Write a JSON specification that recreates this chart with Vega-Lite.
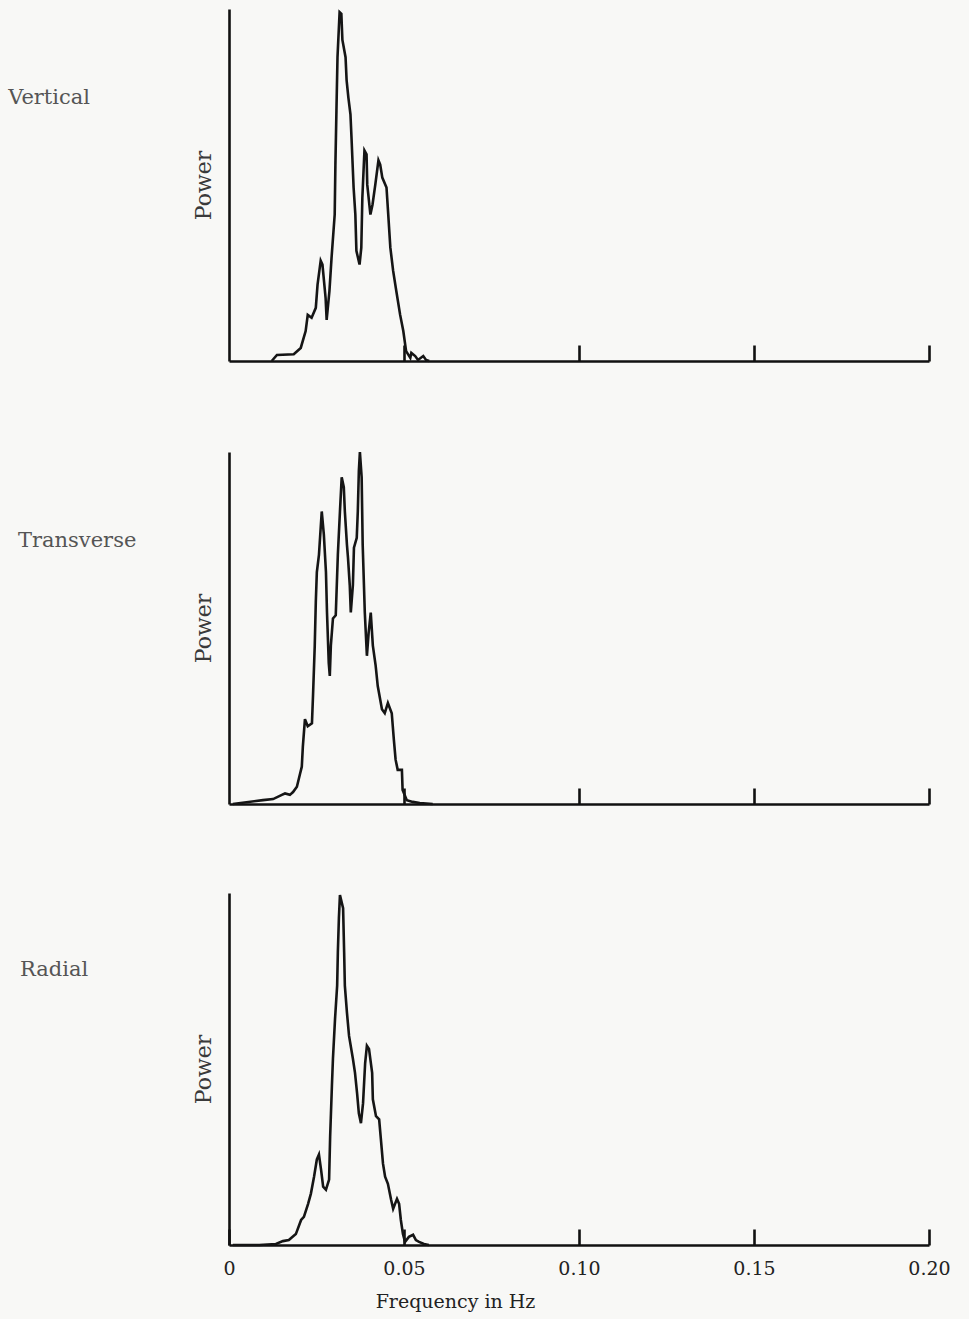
{
  "$schema": "https://vega.github.io/schema/vega-lite/v6.json",
  "background": "#f8f8f6",
  "padding": {"left": 8, "top": 6, "right": 30, "bottom": 8},
  "spacing": 79,
  "config": {
    "view": {"stroke": null},
    "font": "DejaVu Serif",
    "axis": {"grid": false, "domainColor": "#111111", "domainWidth": 2.6, "tickColor": "#111111", "tickWidth": 2.6}
  },
  "datasets": {
    "vertical": [
      {"f": 0.0122, "p": 0}, {"f": 0.0137, "p": 1.7}, {"f": 0.0185, "p": 1.9}, {"f": 0.0205, "p": 3.7},
      {"f": 0.0219, "p": 8.5}, {"f": 0.0225, "p": 13.1}, {"f": 0.0236, "p": 12.3}, {"f": 0.0248, "p": 15.1},
      {"f": 0.0253, "p": 21.7}, {"f": 0.0262, "p": 28.5}, {"f": 0.0267, "p": 27.4}, {"f": 0.0276, "p": 17.9},
      {"f": 0.0279, "p": 11.7}, {"f": 0.0287, "p": 19.9}, {"f": 0.0293, "p": 29.3}, {"f": 0.0302, "p": 41.6},
      {"f": 0.0304, "p": 55.8}, {"f": 0.0307, "p": 71.2}, {"f": 0.0310, "p": 86.3}, {"f": 0.0316, "p": 99.1},
      {"f": 0.0321, "p": 98.6}, {"f": 0.0324, "p": 91.2}, {"f": 0.0333, "p": 86.3}, {"f": 0.0336, "p": 79.8},
      {"f": 0.0341, "p": 74.9}, {"f": 0.0347, "p": 70.1}, {"f": 0.0350, "p": 63.5}, {"f": 0.0356, "p": 49.3},
      {"f": 0.0361, "p": 41.6}, {"f": 0.0364, "p": 31.3}, {"f": 0.0373, "p": 27.4}, {"f": 0.0378, "p": 32.2},
      {"f": 0.0381, "p": 46.4}, {"f": 0.0387, "p": 59.8}, {"f": 0.0393, "p": 58.7}, {"f": 0.0395, "p": 50.1},
      {"f": 0.0404, "p": 41.6}, {"f": 0.0410, "p": 44.4}, {"f": 0.0418, "p": 50.1}, {"f": 0.0427, "p": 57.0},
      {"f": 0.0432, "p": 55.8}, {"f": 0.0438, "p": 52.1}, {"f": 0.0450, "p": 49.3}, {"f": 0.0455, "p": 41.6},
      {"f": 0.0461, "p": 32.2}, {"f": 0.0469, "p": 25.6}, {"f": 0.0478, "p": 19.9}, {"f": 0.0489, "p": 13.1},
      {"f": 0.0498, "p": 8.5}, {"f": 0.0506, "p": 2.8}, {"f": 0.0518, "p": 0.9}, {"f": 0.0521, "p": 2.3},
      {"f": 0.0532, "p": 1.4}, {"f": 0.0540, "p": 0.3}, {"f": 0.0555, "p": 1.4}, {"f": 0.0563, "p": 0.3},
      {"f": 0.0572, "p": 0}
    ],
    "transverse": [
      {"f": 0.0011, "p": 0}, {"f": 0.0097, "p": 1.1}, {"f": 0.0126, "p": 1.4}, {"f": 0.0151, "p": 2.6},
      {"f": 0.0160, "p": 3.0}, {"f": 0.0174, "p": 2.6}, {"f": 0.0183, "p": 3.4}, {"f": 0.0194, "p": 4.9},
      {"f": 0.0203, "p": 8.6}, {"f": 0.0208, "p": 10.6}, {"f": 0.0211, "p": 16.3}, {"f": 0.0217, "p": 24.1},
      {"f": 0.0225, "p": 22.1}, {"f": 0.0237, "p": 22.9}, {"f": 0.0240, "p": 30.7}, {"f": 0.0245, "p": 45.0},
      {"f": 0.0248, "p": 57.3}, {"f": 0.0251, "p": 65.9}, {"f": 0.0257, "p": 70.8}, {"f": 0.0262, "p": 78.5},
      {"f": 0.0265, "p": 83.1}, {"f": 0.0271, "p": 76.5}, {"f": 0.0277, "p": 65.9}, {"f": 0.0280, "p": 54.4},
      {"f": 0.0285, "p": 40.1}, {"f": 0.0288, "p": 36.4}, {"f": 0.0291, "p": 45.0}, {"f": 0.0297, "p": 52.7},
      {"f": 0.0305, "p": 53.6}, {"f": 0.0311, "p": 70.8}, {"f": 0.0317, "p": 83.1}, {"f": 0.0322, "p": 92.8},
      {"f": 0.0328, "p": 90.0}, {"f": 0.0331, "p": 83.1}, {"f": 0.0337, "p": 73.6}, {"f": 0.0340, "p": 69.9},
      {"f": 0.0345, "p": 62.2}, {"f": 0.0348, "p": 54.4}, {"f": 0.0354, "p": 62.2}, {"f": 0.0357, "p": 72.8},
      {"f": 0.0365, "p": 75.6}, {"f": 0.0368, "p": 83.1}, {"f": 0.0371, "p": 94.6}, {"f": 0.0374, "p": 100},
      {"f": 0.0379, "p": 92.8}, {"f": 0.0382, "p": 73.6}, {"f": 0.0388, "p": 54.4}, {"f": 0.0394, "p": 42.1},
      {"f": 0.0399, "p": 48.7}, {"f": 0.0405, "p": 54.4}, {"f": 0.0411, "p": 45.0}, {"f": 0.0419, "p": 39.3},
      {"f": 0.0425, "p": 33.5}, {"f": 0.0437, "p": 26.9}, {"f": 0.0445, "p": 25.8}, {"f": 0.0454, "p": 28.7},
      {"f": 0.0465, "p": 25.8}, {"f": 0.0471, "p": 18.3}, {"f": 0.0476, "p": 12.6}, {"f": 0.0482, "p": 9.7},
      {"f": 0.0494, "p": 9.7}, {"f": 0.0496, "p": 4.0}, {"f": 0.0508, "p": 1.1}, {"f": 0.0525, "p": 0.6},
      {"f": 0.0545, "p": 0.3}, {"f": 0.0582, "p": 0}
    ],
    "radial": [
      {"f": 0.0011, "p": 0}, {"f": 0.0086, "p": 0}, {"f": 0.0134, "p": 0.3}, {"f": 0.0154, "p": 1.1},
      {"f": 0.0171, "p": 1.4}, {"f": 0.0191, "p": 3.1}, {"f": 0.0206, "p": 7.1}, {"f": 0.0214, "p": 8.0},
      {"f": 0.0226, "p": 11.7}, {"f": 0.0234, "p": 14.6}, {"f": 0.0243, "p": 19.4}, {"f": 0.0251, "p": 24.3},
      {"f": 0.0257, "p": 25.7}, {"f": 0.0263, "p": 21.4}, {"f": 0.0269, "p": 16.6}, {"f": 0.0277, "p": 15.7},
      {"f": 0.0286, "p": 18.6}, {"f": 0.0289, "p": 30.9}, {"f": 0.0294, "p": 45.1}, {"f": 0.0297, "p": 52.9},
      {"f": 0.0303, "p": 64.3}, {"f": 0.0309, "p": 73.7}, {"f": 0.0311, "p": 83.1}, {"f": 0.0314, "p": 92.9},
      {"f": 0.0317, "p": 99.4}, {"f": 0.0326, "p": 95.7}, {"f": 0.0329, "p": 83.1}, {"f": 0.0331, "p": 73.7},
      {"f": 0.0337, "p": 66.0}, {"f": 0.0343, "p": 59.4}, {"f": 0.0354, "p": 52.9}, {"f": 0.0360, "p": 48.9},
      {"f": 0.0366, "p": 43.1}, {"f": 0.0371, "p": 37.4}, {"f": 0.0377, "p": 34.6}, {"f": 0.0383, "p": 40.3},
      {"f": 0.0389, "p": 51.7}, {"f": 0.0394, "p": 56.6}, {"f": 0.0400, "p": 55.7}, {"f": 0.0409, "p": 48.9},
      {"f": 0.0411, "p": 41.4}, {"f": 0.0420, "p": 36.6}, {"f": 0.0429, "p": 35.7}, {"f": 0.0434, "p": 30.0},
      {"f": 0.0440, "p": 23.1}, {"f": 0.0446, "p": 19.4}, {"f": 0.0454, "p": 17.4}, {"f": 0.0463, "p": 12.9},
      {"f": 0.0469, "p": 10.3}, {"f": 0.0480, "p": 13.1}, {"f": 0.0486, "p": 11.7}, {"f": 0.0491, "p": 7.1},
      {"f": 0.0497, "p": 3.1}, {"f": 0.0503, "p": 0.9}, {"f": 0.0514, "p": 2.3}, {"f": 0.0526, "p": 2.9},
      {"f": 0.0534, "p": 1.4}, {"f": 0.0543, "p": 0.9}, {"f": 0.0557, "p": 0.3}, {"f": 0.0571, "p": 0}
    ]
  },
  "vconcat": [
    {
      "width": 700,
      "height": 352,
      "layer": [
        {
          "data": {"name": "vertical"},
          "mark": {"type": "line", "color": "#151515", "strokeWidth": 2.6},
          "encoding": {
            "x": {"field": "f", "type": "quantitative", "scale": {"domain": [0, 0.2]},
                  "axis": {"values": [0.05, 0.1, 0.15, 0.2], "tickSize": -16, "labels": false, "title": null}},
            "y": {"field": "p", "type": "quantitative", "scale": {"domain": [0, 100]},
                  "axis": {"ticks": false, "labels": false, "title": "Power", "titleFont": "DejaVu Serif", "titleFontSize": 22, "titleFontWeight": "normal", "titleColor": "#3a3a3a", "titlePadding": 14}}
          }
        },
        {
          "data": {"values": [{"label": "Vertical"}]},
          "mark": {"type": "text", "align": "left", "baseline": "alphabetic", "font": "DejaVu Serif", "fontSize": 21, "color": "#555555"},
          "encoding": {"x": {"datum": -0.0631}, "y": {"datum": 73}, "text": {"field": "label"}}
        }
      ]
    },
    {
      "width": 700,
      "height": 352,
      "layer": [
        {
          "data": {"name": "transverse"},
          "mark": {"type": "line", "color": "#151515", "strokeWidth": 2.6},
          "encoding": {
            "x": {"field": "f", "type": "quantitative", "scale": {"domain": [0, 0.2]},
                  "axis": {"values": [0.05, 0.1, 0.15, 0.2], "tickSize": -16, "labels": false, "title": null}},
            "y": {"field": "p", "type": "quantitative", "scale": {"domain": [0, 100]},
                  "axis": {"ticks": false, "labels": false, "title": "Power", "titleFont": "DejaVu Serif", "titleFontSize": 22, "titleFontWeight": "normal", "titleColor": "#3a3a3a", "titlePadding": 14}}
          }
        },
        {
          "data": {"values": [{"label": "Transverse"}]},
          "mark": {"type": "text", "align": "left", "baseline": "alphabetic", "font": "DejaVu Serif", "fontSize": 21, "color": "#555555"},
          "encoding": {"x": {"datum": -0.0603}, "y": {"datum": 73}, "text": {"field": "label"}}
        }
      ]
    },
    {
      "width": 700,
      "height": 352,
      "layer": [
        {
          "data": {"name": "radial"},
          "mark": {"type": "line", "color": "#151515", "strokeWidth": 2.6},
          "encoding": {
            "x": {"field": "f", "type": "quantitative", "scale": {"domain": [0, 0.2]},
                  "axis": {"values": [0, 0.05, 0.1, 0.15, 0.2], "tickSize": -16, "labelPadding": 30, "labelBaseline": "top",
                           "labelFont": "DejaVu Serif", "labelFontSize": 19, "labelColor": "#222222", "labelFlush": false,
                           "labelExpr": "datum.value == 0 ? '0' : format(datum.value, '.2f')",
                           "title": "Frequency in Hz", "titleFont": "DejaVu Serif", "titleFontSize": 19, "titleFontWeight": "normal",
                           "titleColor": "#222222", "titleX": 226, "titleY": 62, "titleAlign": "center", "titleBaseline": "alphabetic"}},
            "y": {"field": "p", "type": "quantitative", "scale": {"domain": [0, 100]},
                  "axis": {"ticks": false, "labels": false, "title": "Power", "titleFont": "DejaVu Serif", "titleFontSize": 22, "titleFontWeight": "normal", "titleColor": "#3a3a3a", "titlePadding": 14}}
          }
        },
        {
          "data": {"values": [{"label": "Radial"}]},
          "mark": {"type": "text", "align": "left", "baseline": "alphabetic", "font": "DejaVu Serif", "fontSize": 21, "color": "#555555"},
          "encoding": {"x": {"datum": -0.0597}, "y": {"datum": 76.5}, "text": {"field": "label"}}
        }
      ]
    }
  ]
}
